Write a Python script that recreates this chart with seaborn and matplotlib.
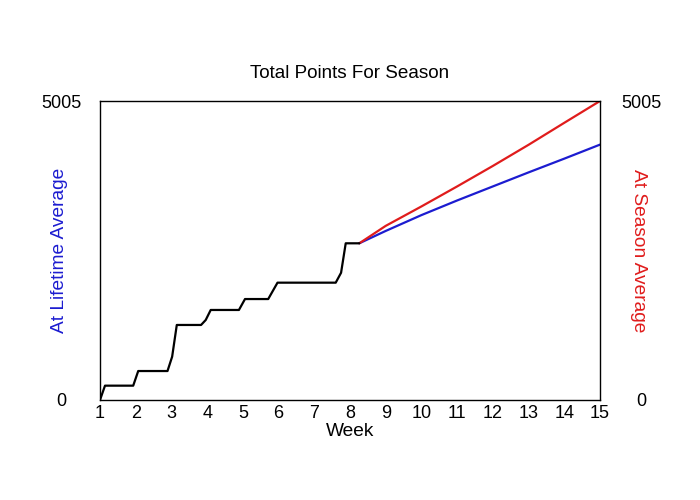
import matplotlib
matplotlib.use("Agg")
import matplotlib.pyplot as plt
import seaborn as sns
import pandas as pd

# --- data ---
actual_weeks = [1.0, 1.14, 1.93, 2.07, 2.89, 3.02, 3.15, 3.83, 3.96, 4.10, 4.89,
                5.06, 5.71, 5.97, 7.60, 7.75, 7.88, 8.26]
actual_points = [0, 240, 240, 485, 485, 725, 1256, 1256, 1339, 1507, 1507,
                 1690, 1690, 1964, 1964, 2130, 2623, 2623]

proj_weeks = [8.26, 9.0, 10.0, 11.0, 12.0, 13.0, 14.0, 15.0]
lifetime_points = [2623, 2830, 3095, 3340, 3575, 3810, 4040, 4275]
season_points = [2623, 2915, 3240, 3575, 3918, 4272, 4640, 5005]

x_ticks = list(range(1, 16))
y_ticks = [0, 5005]

title = "Total Points For Season"
x_label = "Week"
left_label = "At Lifetime Average"
right_label = "At Season Average"

BLUE = "#1c1cd0"
RED = "#e01c1c"

sns.set_style("white")
plt.rcParams["font.family"] = ["Liberation Sans", "DejaVu Sans"]
plt.rcParams["text.color"] = "black"
plt.rcParams["axes.labelcolor"] = "black"
plt.rcParams["xtick.color"] = "black"
plt.rcParams["ytick.color"] = "black"

fig = plt.figure(figsize=(7, 5), dpi=100)
ax = fig.add_axes([100 / 700, 1 - 400 / 500, 500 / 700, 299 / 500])

df_actual = pd.DataFrame({"week": actual_weeks, "points": actual_points})
df_life = pd.DataFrame({"week": proj_weeks, "points": lifetime_points})
df_season = pd.DataFrame({"week": proj_weeks, "points": season_points})

sns.lineplot(data=df_life, x="week", y="points", ax=ax, color=BLUE, lw=1.6,
             estimator=None, sort=False)
sns.lineplot(data=df_season, x="week", y="points", ax=ax, color=RED, lw=1.6,
             estimator=None, sort=False)
sns.lineplot(data=df_actual, x="week", y="points", ax=ax, color="black", lw=1.6,
             estimator=None, sort=False)

ax.set_xlim(1, 15)
ax.set_ylim(0, 5005)
ax.set_xticks(x_ticks)
ax.set_xticklabels([str(t) for t in x_ticks])
ax.set_yticks(y_ticks)
ax.set_yticklabels([str(t) for t in y_ticks])
ax.tick_params(axis="x", length=0, pad=3.5, labelsize=13)
ax.tick_params(axis="y", length=0, pad=28, labelsize=13)
for lab in ax.get_yticklabels():
    lab.set_ha("center")

for sp in ax.spines.values():
    sp.set_color("black")
    sp.set_linewidth(1)
    sp.set_visible(True)

ax.set_xlabel(x_label, fontsize=13.8, labelpad=0.5)
ax.set_ylabel(left_label, fontsize=13.8, color=BLUE, va="center")
ax.yaxis.set_label_coords(-0.08, 0.5)
ax.set_title(title, fontsize=13.6, pad=16.5, color="black")

ax2 = ax.twinx()
ax2.set_ylim(0, 5005)
ax2.set_yticks(y_ticks)
ax2.set_yticklabels([str(t) for t in y_ticks])
ax2.tick_params(axis="y", length=0, pad=29.5, labelsize=13)
for lab in ax2.get_yticklabels():
    lab.set_ha("center")
ax2.set_ylabel(right_label, fontsize=13.8, color=RED, rotation=270, va="center")
ax2.yaxis.set_label_coords(1.077, 0.5)
for sp in ax2.spines.values():
    sp.set_visible(False)

fig.savefig("out.png", dpi=100)
